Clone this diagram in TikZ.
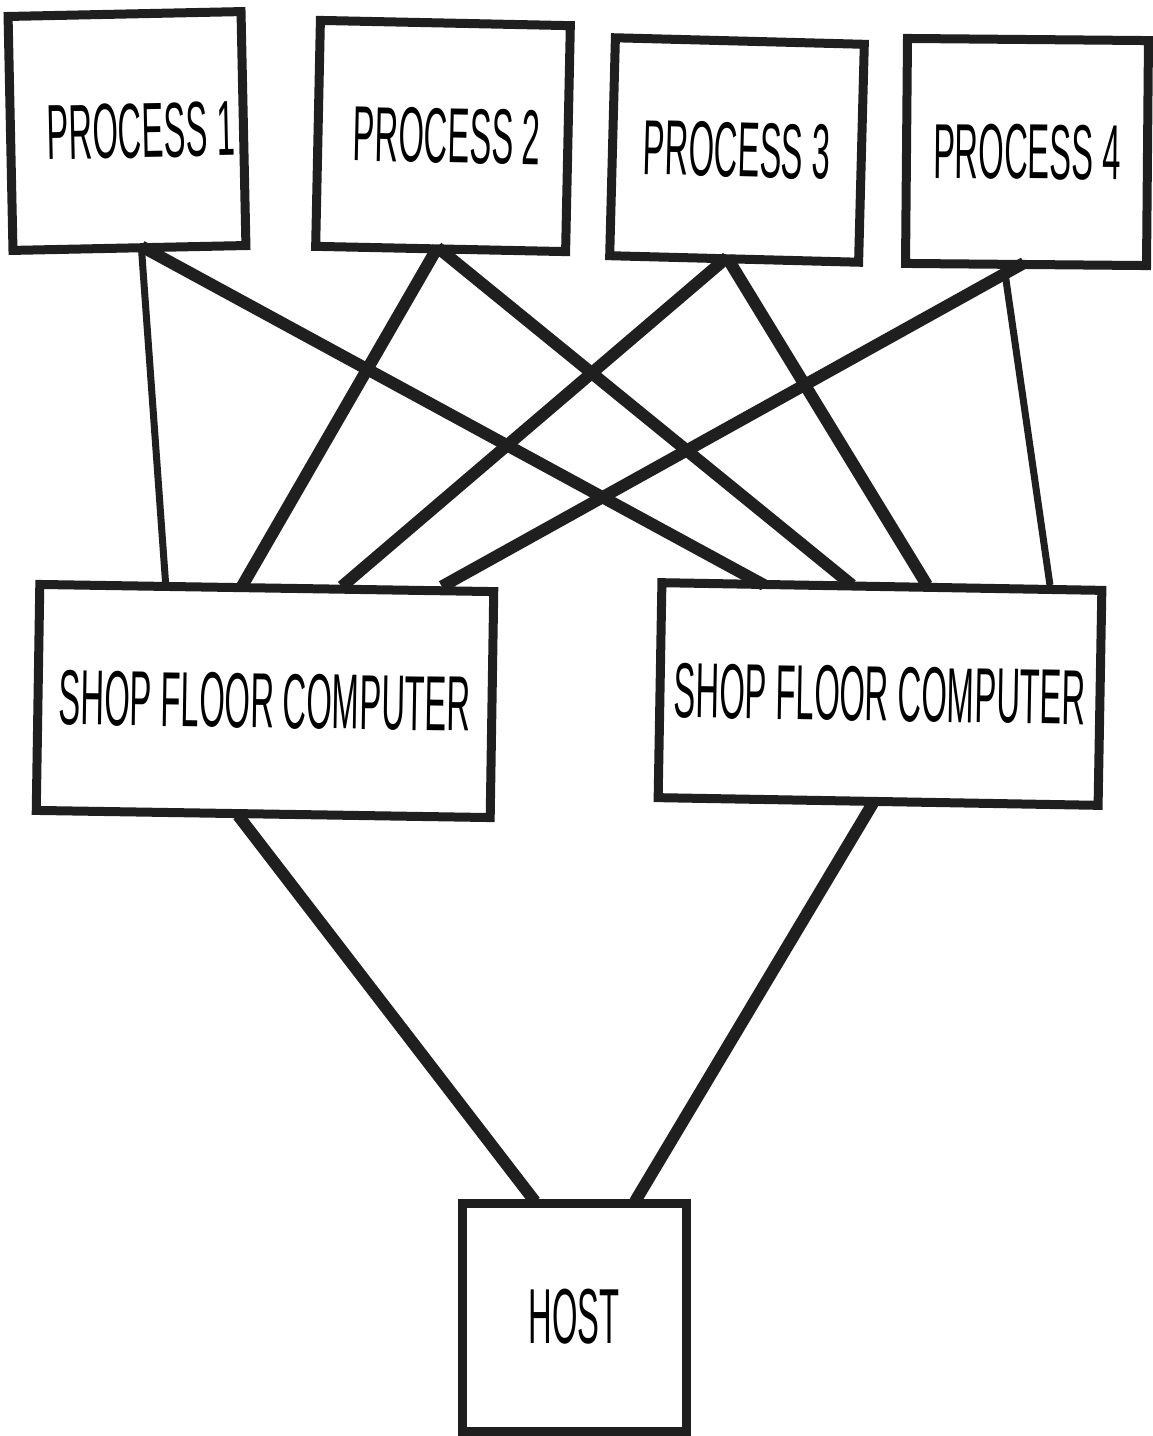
\documentclass[tikz,border=0pt]{standalone}
\usepackage{fontspec}
\newfontfamily\narrowsans[FakeStretch=0.42]{Liberation Sans}
\begin{document}
\begin{tikzpicture}[x=1pt,y=-1pt,
  unit/.style={draw=black!88, line width=9pt, fill=white, inner sep=0pt,
    font=\narrowsans\fontsize{78}{78}\selectfont, text=black},
  heavy/.style={draw=black!88, line width=12pt},
  light/.style={draw=black!88, line width=7pt}]
\useasboundingbox (0,0) rectangle (1153,1436);

% process stations
\node[unit, minimum width=233pt, minimum height=234pt, rotate=1.2] (p1) at (127,131) {\hspace*{28pt}PROCESS 1};
\node[unit, minimum width=250pt, minimum height=226pt, rotate=-1.2] (p2) at (443,136) {\hspace*{8pt}PROCESS 2};
\node[unit, minimum width=249pt, minimum height=218pt, rotate=-1.5] (p3) at (737,150) {PROCESS 3};
\node[unit, minimum width=241pt, minimum height=225pt, rotate=-0.5] (p4) at (1027,152) {PROCESS 4};

% shop floor computers
\node[unit, minimum width=454pt, minimum height=226pt, rotate=-0.9] (sl) at (265,701) {SHOP FLOOR COMPUTER};
\node[unit, minimum width=440pt, minimum height=215pt, rotate=-1.0] (sr) at (880,694) {SHOP FLOOR COMPUTER};

% host
\node[unit, minimum width=224pt, minimum height=228pt] (host) at (574,1317) {HOST};

% links from the processes to both shop floor computers
\draw[light] ([xshift=12pt,yshift=3pt]p1.south) -- ([xshift=-101pt,yshift=-3pt]sl.north);
\draw[heavy] ([xshift=12pt,yshift=6pt]p1.south) -- ([xshift=-118pt,yshift=-3pt]sr.north);
\draw[heavy] ([xshift=-3pt,yshift=6pt]p2.south) -- ([xshift=-25pt,yshift=-3pt]sl.north);
\draw[heavy] ([xshift=-3pt,yshift=6pt]p2.south) -- ([xshift=-30pt,yshift=-3pt]sr.north);
\draw[heavy] ([xshift=-7pt,yshift=6pt]p3.south) -- ([xshift=75pt,yshift=-3pt]sl.north);
\draw[heavy] ([xshift=-7pt,yshift=6pt]p3.south) -- ([xshift=45pt,yshift=-3pt]sr.north);
\draw[heavy] ([xshift=-2pt,yshift=6pt]p4.south) -- ([xshift=175pt,yshift=-3pt]sl.north);
\draw[light] ([xshift=-22pt,yshift=3pt]p4.south) -- ([xshift=168pt,yshift=-3pt]sr.north);

% links from the shop floor computers to the host
\draw[heavy] ([xshift=-25pt,yshift=3pt]sl.south) -- ([xshift=-39pt,yshift=-3pt]host.north);
\draw[heavy] ([xshift=-5pt,yshift=3pt]sr.south) -- ([xshift=61pt,yshift=-3pt]host.north);
\end{tikzpicture}
\end{document}
